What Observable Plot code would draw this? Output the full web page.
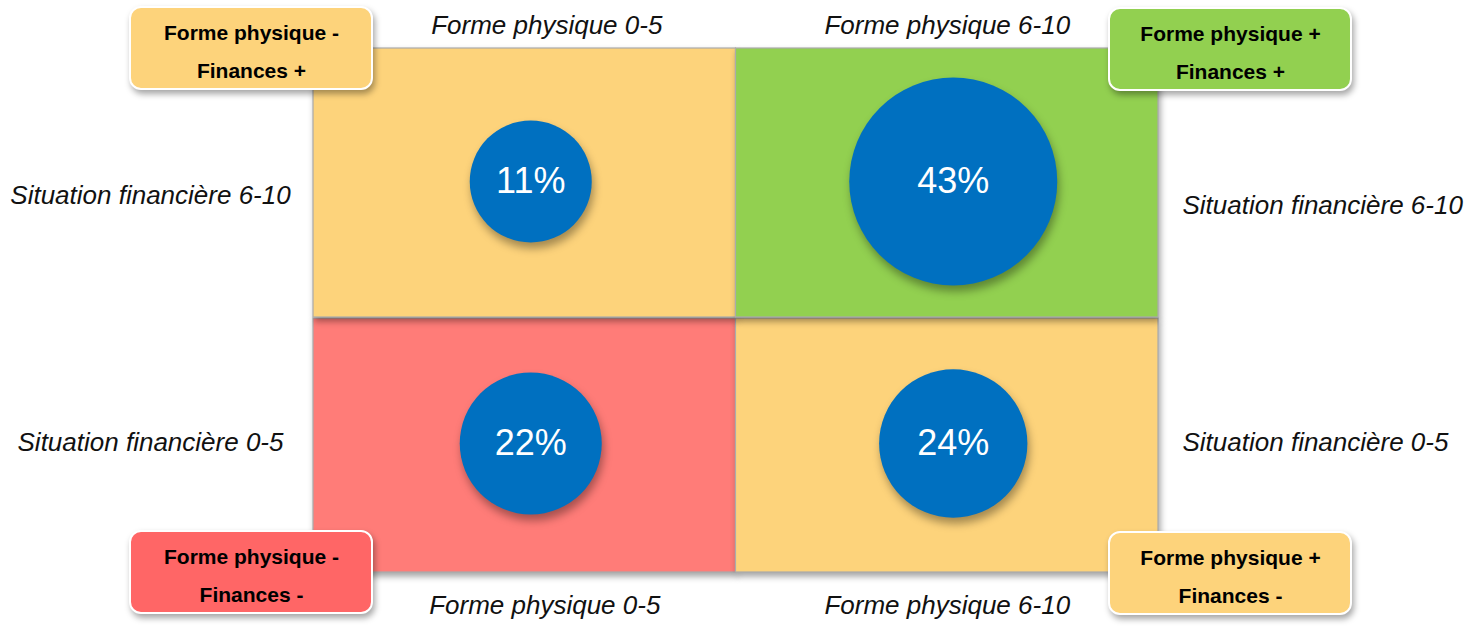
<!DOCTYPE html>
<html><head><meta charset="utf-8">
<script src="https://cdn.jsdelivr.net/npm/d3@7"></script>
<script src="https://cdn.jsdelivr.net/npm/@observablehq/plot@0.6"></script>
<style>
html,body{margin:0;padding:0;background:#fff;}
#chart svg g[aria-label="rect"] rect{filter:drop-shadow(2px 4px 3px rgba(0,0,0,0.35));}
#chart svg g[aria-label="dot"] circle{filter:drop-shadow(2px 6px 4px rgba(0,0,0,0.35));}
</style></head><body><div id="chart"></div>
<script>
// Axis categories
const formeLevels = ["0-5", "6-10"];      // Forme physique (x)
const financeLevels = ["0-5", "6-10"];    // Situation financière (y)

// Quadrants (bottom row first = drawing order)
const quadForme   = ["0-5", "6-10", "0-5", "6-10"];
const quadFinance = ["0-5", "0-5", "6-10", "6-10"];
const shares      = [22, 24, 11, 43];
const profiles    = ["négatif", "mixte", "mixte", "positif"];
const formeSigns  = ["-", "+", "-", "+"];
const financeSigns= ["-", "-", "+", "+"];

// Styles
const quadFill = {"négatif": "#FF7C78", "mixte": "#FDD37B", "positif": "#92D050"};
const boxFill  = {"négatif": "#FF6666", "mixte": "#FDD37B", "positif": "#92D050"};
const font = "'Liberation Sans', Arial, Helvetica, sans-serif";

const quads = quadForme.map((f, i) => ({
  forme: f,
  finance: quadFinance[i],
  share: shares[i],
  profile: profiles[i],
  xi: formeLevels.indexOf(f),
  yi: financeLevels.indexOf(quadFinance[i]),
  label: `Forme physique ${formeSigns[i]}\nFinances ${financeSigns[i]}`
}));

const quadRect = (rows, opts) => Plot.rect(rows, {
  x1: d => d.xi, x2: d => d.xi + 1, y1: d => d.yi, y2: d => d.yi + 1,
  fill: d => quadFill[d.profile], stroke: "#ababab", strokeWidth: 1.2, ...opts
});

const boxMarks = (rows, dx, dy) => [
  Plot.rect(rows, {
    x1: d => 2 * d.xi, x2: d => 2 * d.xi, y1: d => 2 * d.yi, y2: d => 2 * d.yi,
    insetLeft: -121, insetRight: -121, insetTop: -41, insetBottom: -41,
    rx: 11, ry: 11, dx, dy,
    fill: d => boxFill[d.profile], stroke: "white", strokeWidth: 2
  }),
  Plot.text(rows, {
    x: d => 2 * d.xi, y: d => 2 * d.yi, text: "label", dx, dy: dy - 2,
    fontSize: 21, fontWeight: "bold", fill: "black", lineHeight: 1.85
  })
];

const italic = {fontStyle: "italic", fontSize: 26, fill: "#111"};
const formeLabel = (level, yEdge, dx, dy) => Plot.text([level], {
  x: d => formeLevels.indexOf(d) + 0.5, y: () => yEdge,
  text: d => `Forme physique ${d}`, dx, dy, ...italic
});
const financeLabel = (level, xEdge, anchor, dx, dy) => Plot.text([level], {
  x: () => xEdge, y: d => financeLevels.indexOf(d) + 0.5,
  text: d => `Situation financière ${d}`, textAnchor: anchor, dx, dy, ...italic
});

const chart = Plot.plot({
  width: 1479, height: 627,
  marginLeft: 313, marginRight: 321, marginTop: 48, marginBottom: 55,
  x: {type: "linear", domain: [0, 2], axis: null},
  y: {type: "linear", domain: [0, 2], axis: null},
  r: {type: "linear", domain: [11, 22, 43], range: [61, 71, 104]},
  style: {fontFamily: font, background: "white", overflow: "visible"},
  marks: [
    quadRect(quads.filter(d => d.yi === 0), {insetTop: 8}),
    quadRect(quads.filter(d => d.yi === 1), {insetBottom: -7}),
    Plot.dot(quads, {x: d => d.xi + 0.5, y: d => d.yi + 0.5, r: "share", fill: "#0070C0", dx: 6, dy: 2}),
    Plot.text(quads, {x: d => d.xi + 0.5, y: d => d.yi + 0.5, text: d => `${d.share}%`,
      fill: "white", fontSize: 36, dx: 6, dy: 2}),
    formeLabel("0-5", 2, 22, -23), formeLabel("6-10", 2, 0, -23),
    formeLabel("0-5", 0, 20, 33), formeLabel("6-10", 0, 0, 33),
    financeLabel("6-10", 0, "middle", -163, 16), financeLabel("0-5", 0, "middle", -163, 1),
    financeLabel("6-10", 2, "start", 24, 26), financeLabel("0-5", 2, "start", 24, 1),
    ...boxMarks(quads.filter(d => d.xi === 0), -62, 0),
    ...boxMarks(quads.filter(d => d.xi === 1), 72, 1)
  ]
});
document.getElementById("chart").appendChild(chart);
</script></body></html>
